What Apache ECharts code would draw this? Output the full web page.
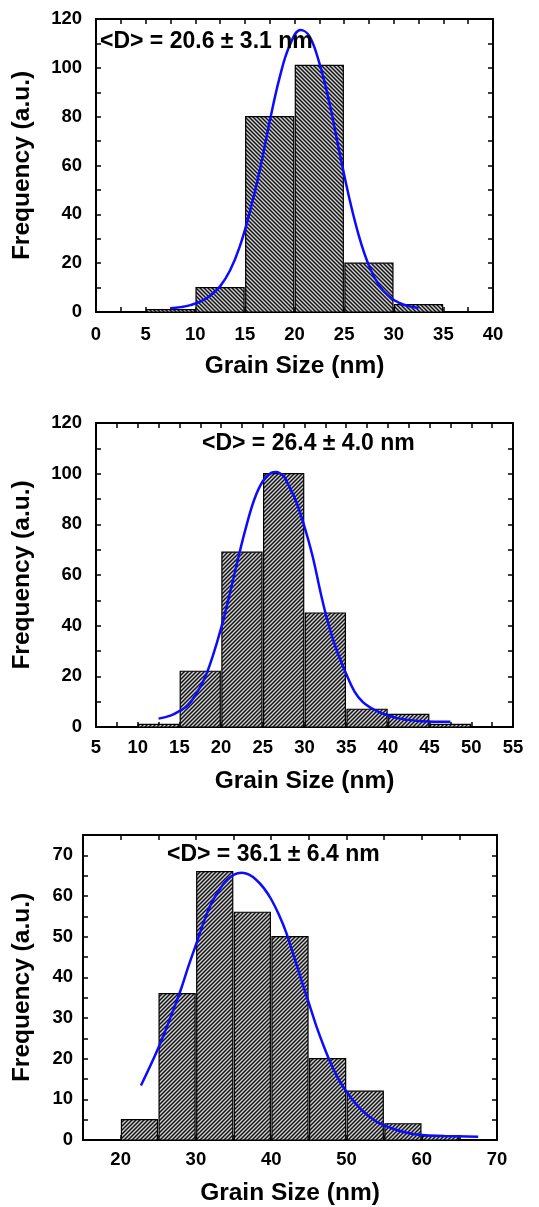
<!DOCTYPE html>
<html>
<head>
<meta charset="utf-8">
<script src="https://cdn.jsdelivr.net/npm/echarts@6/dist/echarts.min.js"></script>
<style>
html,body{margin:0;padding:0;background:#fff;}
#chart{width:539px;height:1207px;}
</style>
</head>
<body>
<div id="chart"></div>
<script>
// ---------- DATA ----------
const binWidth = 5;
// Panel 1
const p1BinStart = [5, 10, 15, 20, 25, 30];
const p1Counts   = [1, 10, 80, 101, 20, 3];
const p1FitX = [7.5, 8.5, 9.5, 10.5, 11.5, 12.5, 13.5, 14.5, 15.5, 16.5, 17.5, 18.5, 19.5, 20.6, 21.5, 22.5, 23.5, 24.5, 25.5, 26.5, 27.5, 28.5, 29.5, 30.5, 31.5, 32.5];
const p1FitY = [1.5, 2.0, 2.8, 4.2, 6.7, 10.5, 17, 27, 41, 58, 78, 96, 109, 115.5, 113, 102, 86, 66, 47, 31, 19, 11, 6.5, 3.8, 2.4, 1.6];
const p1Label = '<D> = 20.6 ± 3.1 nm';
// Panel 2
const p2BinStart = [10, 15, 20, 25, 30, 35, 40, 45];
const p2Counts   = [1, 22, 69, 100, 45, 7, 5, 1];
const p2FitX = [12.5, 14, 15, 16, 17, 18, 19, 20, 21, 22, 23, 24, 25, 26, 26.6, 27.5, 28, 29, 30, 31, 32, 33, 34, 35, 36, 37, 38, 39, 40, 41, 42, 44, 47.5];
const p2FitY = [3.3, 4.6, 6.3, 8.5, 13, 19, 28, 39, 52, 66, 79, 90, 97, 100.3, 100.7, 99, 96, 89, 79, 67, 52, 39, 29, 21, 14, 9.8, 7.5, 5.8, 4.6, 3.6, 3.0, 2.3, 2.1];
const p2Label = '<D> = 26.4 ± 4.0 nm';
// Panel 3
const p3BinStart = [20, 25, 30, 35, 40, 45, 50, 55, 60];
const p3Counts   = [5, 36, 66, 56, 50, 20, 12, 4, 1];
const p3FitX = [22.7, 25, 27, 28, 29, 30, 31, 32, 33, 34, 35, 36.1, 37, 38, 39, 40, 41, 42, 43, 44, 45, 46, 47, 48, 49, 50, 52, 54, 56, 58, 60, 63, 67.5];
const p3FitY = [13.4, 22.6, 32, 37, 42.7, 48, 53.4, 58, 61.2, 63.7, 65.2, 65.7, 65.3, 64, 62, 59.2, 55.5, 51, 45.2, 39.4, 33.7, 28, 23, 18.5, 14.8, 11.9, 7.4, 4.5, 2.9, 1.8, 1.2, 1.0, 0.8];
const p3Label = '<D> = 36.1 ± 6.4 nm';

const xTitle = 'Grain Size (nm)';
const yTitle = 'Frequency (a.u.)';

// ---------- STYLE ----------
const FONT = '"Liberation Sans", Arial, Helvetica, sans-serif';

function makePattern(dir) {
  const c = document.createElement('canvas');
  c.width = 4; c.height = 4;
  const ctx = c.getContext('2d');
  ctx.fillStyle = '#cfcfcf';
  ctx.fillRect(0, 0, 4, 4);
  ctx.strokeStyle = '#111';
  ctx.lineWidth = 1.4;
  for (let k = -2; k <= 2; k++) {
    ctx.beginPath();
    if (dir === 'back') { ctx.moveTo(k * 4 - 2, -2); ctx.lineTo(k * 4 + 6, 6); }
    else { ctx.moveTo(k * 4 - 2, 6); ctx.lineTo(k * 4 + 6, -2); }
    ctx.stroke();
  }
  return { image: c, repeat: 'repeat' };
}

const panels = [
  { bins: p1BinStart, counts: p1Counts, fx: p1FitX, fy: p1FitY, label: p1Label, pattern: makePattern('back'),
    grid: { left: 96, top: 19, width: 397, height: 293 },
    x: { min: 0, max: 40, interval: 2.5, labelEvery: 5 }, y: { min: 0, max: 120, interval: 10, labelEvery: 20 },
    yNameGap: 61, xNameGap: 42, yLabelMargin: 14, xLabelMargin: 13, textPos: [100, 44] },
  { bins: p2BinStart, counts: p2Counts, fx: p2FitX, fy: p2FitY, label: p2Label, pattern: makePattern('fwd'),
    grid: { left: 96, top: 423, width: 417, height: 304 },
    x: { min: 5, max: 55, interval: 2.5, labelEvery: 5 }, y: { min: 0, max: 120, interval: 10, labelEvery: 20 },
    yNameGap: 61, xNameGap: 42, yLabelMargin: 14, xLabelMargin: 11, textPos: [202, 446] },
  { bins: p3BinStart, counts: p3Counts, fx: p3FitX, fy: p3FitY, label: p3Label, pattern: makePattern('fwd'),
    grid: { left: 83, top: 835, width: 414, height: 305 },
    x: { min: 15, max: 70, interval: 5, labelEvery: 10 }, y: { min: 0, max: 75, interval: 5, labelEvery: 10 },
    yNameGap: 48, xNameGap: 41, yLabelMargin: 10, xLabelMargin: 10, textPos: [167, 857] }
];

const grids = [], xAxes = [], yAxes = [], series = [], graphics = [];
const lineStyle = { color: '#000', width: 2 };
const tickStyle = { color: '#000', width: 1.5 };
const labelStyle = { color: '#000', fontFamily: FONT, fontWeight: 'bold', fontSize: 18.5 };
const nameStyle = { color: '#000', fontFamily: FONT, fontWeight: 'bold', fontSize: 24.5 };

panels.forEach((p, i) => {
  grids.push(Object.assign({ containLabel: false }, p.grid));
  const xb = {
    type: 'value', gridIndex: i, min: p.x.min, max: p.x.max, interval: p.x.interval,
    axisLine: { show: true, onZero: false, lineStyle }, axisTick: { show: true, inside: true, length: 5, lineStyle: tickStyle },
    splitLine: { show: false }, minorTick: { show: false }
  };
  const yb = {
    type: 'value', gridIndex: i, min: p.y.min, max: p.y.max, interval: p.y.interval,
    axisLine: { show: true, onZero: false, lineStyle }, axisTick: { show: true, inside: true, length: 5, lineStyle: tickStyle },
    splitLine: { show: false }
  };
  xAxes.push(Object.assign({}, xb, {
    position: 'bottom', name: xTitle, nameLocation: 'middle', nameGap: p.xNameGap, nameTextStyle: nameStyle,
    axisLabel: Object.assign({ show: true, interval: 0, margin: p.xLabelMargin, hideOverlap: false,
      formatter: v => (Math.abs(v % p.x.labelEvery) < 1e-9 && !(i === 2 && v === 15)) ? String(v) : '' }, labelStyle)
  }));
  xAxes.push(Object.assign({}, xb, { position: 'top', axisLabel: { show: false } }));
  yAxes.push(Object.assign({}, yb, {
    position: 'left', name: yTitle, nameLocation: 'middle', nameGap: p.yNameGap, nameTextStyle: nameStyle,
    axisLabel: Object.assign({ show: true, interval: 0, margin: p.yLabelMargin, hideOverlap: false,
      formatter: v => (Math.abs(v % p.y.labelEvery) < 1e-9) ? String(v) : '' }, labelStyle)
  }));
  yAxes.push(Object.assign({}, yb, { position: 'right', axisLabel: { show: false } }));

  const barData = p.bins.map((b, k) => [b, b + binWidth, p.counts[k]]);
  const pattern = p.pattern;
  series.push({
    type: 'custom', xAxisIndex: i * 2, yAxisIndex: i * 2, data: barData, silent: true,
    renderItem: (params, api) => {
      const a = api.coord([api.value(0), api.value(2)]);
      const b = api.coord([api.value(1), 0]);
      return {
        type: 'rect',
        shape: { x: a[0] + 0.8, y: a[1], width: b[0] - a[0] - 1.6, height: b[1] - a[1] },
        style: { fill: pattern, stroke: '#000', lineWidth: 1.2 }
      };
    },
    z: 2
  });
  series.push({
    type: 'line', xAxisIndex: i * 2, yAxisIndex: i * 2,
    data: p.fx.map((x, k) => [x, p.fy[k]]),
    smooth: 0.4, showSymbol: false, symbol: 'none', silent: true,
    lineStyle: { color: '#0b0bff', width: 2.5 }, z: 5
  });
  graphics.push({
    type: 'text', left: p.textPos[0], top: p.textPos[1] - 14, z: 10,
    style: { text: p.label, fill: '#000', font: 'bold 23px ' + FONT }
  });
});

const chart = echarts.init(document.getElementById('chart'), null, { renderer: 'canvas' });
chart.setOption({
  animation: false,
  backgroundColor: '#fff',
  grid: grids,
  xAxis: xAxes,
  yAxis: yAxes,
  series: series,
  graphic: graphics
});
</script>
</body>
</html>
